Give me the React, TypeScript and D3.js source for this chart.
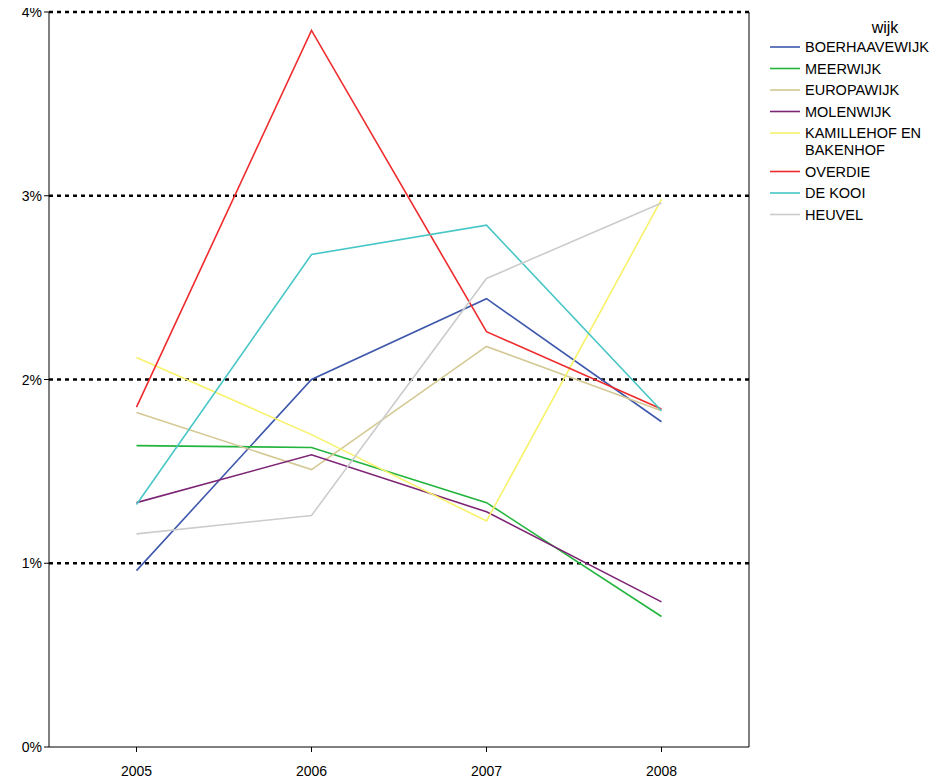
import * as d3 from 'd3';

const years = ['2005', '2006', '2007', '2008'];
const yTicks = [0, 1, 2, 3, 4];
const gridTicks = [1, 2, 3, 4];

const seriesNames = ['BOERHAAVEWIJK', 'MEERWIJK', 'EUROPAWIJK', 'MOLENWIJK', 'KAMILLEHOF EN BAKENHOF', 'OVERDIE', 'DE KOOI', 'HEUVEL'];
const seriesColors = ['#3e58ac', '#22b43c', '#d4c994', '#7d2475', '#f8f26a', '#ef2b2d', '#48c6c6', '#cccccc'];
const boerhaavewijk = [0.96, 2.0, 2.44, 1.77];
const meerwijk = [1.64, 1.63, 1.33, 0.71];
const europawijk = [1.82, 1.51, 2.18, 1.83];
const molenwijk = [1.33, 1.59, 1.28, 0.79];
const kamillehof = [2.12, 1.7, 1.23, 2.98];
const overdie = [1.85, 3.9, 2.26, 1.84];
const dekooi = [1.32, 2.68, 2.84, 1.83];
const heuvel = [1.16, 1.26, 2.55, 2.96];
const seriesValues = [boerhaavewijk, meerwijk, europawijk, molenwijk, kamillehof, overdie, dekooi, heuvel];

export default function App() {
  const left = 49, right = 749, top = 12, bottom = 747;
  const x = d3.scaleBand<string>().domain(years).range([left, right]);
  const y = d3.scaleLinear().domain([0, 4]).range([bottom, top]);
  const line = d3.line<number>().x((_, i) => x(years[i])! + x.bandwidth() / 2).y(d => y(d));
  const font = 'Arial, "Liberation Sans", sans-serif';
  const legendRows: { label: string[]; color: string }[] = seriesNames.map((n, i) => ({
    label: n === 'KAMILLEHOF EN BAKENHOF' ? ['KAMILLEHOF EN', 'BAKENHOF'] : [n],
    color: seriesColors[i],
  }));
  let ly = 47;
  return (
    <svg width={934} height={780} style={{ display: 'block', margin: '-8px 0 0 -8px' }} fontFamily={font}>
      <rect x={0} y={0} width={950} height={780} fill="#fff" />
      {gridTicks.map(t => (
        <line key={t} x1={left} x2={right} y1={y(t)} y2={y(t)} stroke="#000" strokeWidth={2.5} strokeDasharray="4,4" />
      ))}
      {seriesValues.map((v, i) => (
        <path key={i} d={line(v)!} fill="none" stroke={seriesColors[i]} strokeWidth={1.6} />
      ))}
      <line x1={left} x2={left} y1={top} y2={bottom} stroke="#000" strokeWidth={1} />
      <line x1={right} x2={right} y1={top} y2={bottom} stroke="#000" strokeWidth={1} />
      <line x1={left} x2={right} y1={bottom} y2={bottom} stroke="#000" strokeWidth={1} />
      {yTicks.map(t => (
        <g key={t}>
          <line x1={left - 5} x2={left} y1={y(t)} y2={y(t)} stroke="#000" />
          <text x={left - 7} y={y(t) + 5} textAnchor="end" fontSize={14}>{t}%</text>
        </g>
      ))}
      {years.map(yr => {
        const cx = x(yr)! + x.bandwidth() / 2;
        return (
          <g key={yr}>
            <line x1={cx} x2={cx} y1={bottom} y2={bottom + 5} stroke="#000" />
            <text x={cx} y={776} textAnchor="middle" fontSize={14}>{yr}</text>
          </g>
        );
      })}
      <text x={885} y={33} textAnchor="middle" fontSize={16}>wijk</text>
      {legendRows.map((r, i) => {
        const yy = ly;
        ly += 21.5 + 17 * (r.label.length - 1);
        return (
          <g key={i}>
            <line x1={770} x2={800} y1={yy} y2={yy} stroke={r.color} strokeWidth={1.6} />
            {r.label.map((s, j) => (
              <text key={j} x={805} y={yy + 5 + j * 17} fontSize={14.5}>{s}</text>
            ))}
          </g>
        );
      })}
    </svg>
  );
}
